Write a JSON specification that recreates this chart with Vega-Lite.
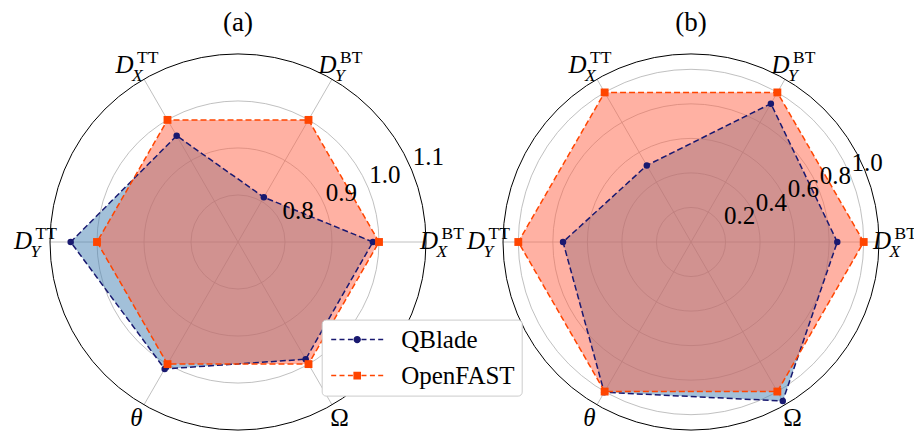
{
  "$schema": "https://vega.github.io/schema/vega-lite/v6.json",
  "autosize": {"type": "pad"},
  "padding": {"left": 14, "top": 8, "right": 0, "bottom": 0},
  "background": "white",
  "spacing": 13,
  "bounds": "flush",
  "resolve": {"scale": {"size": "independent"}},
  "config": {
    "view": {"stroke": null},
    "font": "Liberation Serif",
    "title": {"font": "Liberation Serif", "fontSize": 27, "fontWeight": "normal", "color": "black", "anchor": "middle", "frame": "group", "offset": 12}
  },
  "datasets": {
    "labels": [
      {"k": 0, "base": "D", "sub": "X", "sup": "BT"},
      {"k": 1, "base": "D", "sub": "Y", "sup": "BT"},
      {"k": 2, "base": "D", "sub": "X", "sup": "TT"},
      {"k": 3, "base": "D", "sub": "Y", "sup": "TT"},
      {"k": 4, "base": "θ", "sub": "", "sup": ""},
      {"k": 5, "base": "Ω", "sub": "", "sup": ""}
    ],
    "radA": [
      {"series": "QBlade", "k": 0, "axis": "DX_BT", "value": 0.987},
      {"series": "QBlade", "k": 1, "axis": "DY_BT", "value": 0.81},
      {"series": "QBlade", "k": 2, "axis": "DX_TT", "value": 0.961},
      {"series": "QBlade", "k": 3, "axis": "DY_TT", "value": 1.056},
      {"series": "QBlade", "k": 4, "axis": "theta", "value": 1.012},
      {"series": "QBlade", "k": 5, "axis": "Omega", "value": 0.988},
      {"series": "OpenFAST", "k": 0, "axis": "DX_BT", "value": 1.0},
      {"series": "OpenFAST", "k": 1, "axis": "DY_BT", "value": 1.0},
      {"series": "OpenFAST", "k": 2, "axis": "DX_TT", "value": 1.0},
      {"series": "OpenFAST", "k": 3, "axis": "DY_TT", "value": 1.0},
      {"series": "OpenFAST", "k": 4, "axis": "theta", "value": 1.0},
      {"series": "OpenFAST", "k": 5, "axis": "Omega", "value": 1.0}
    ],
    "radB": [
      {"series": "QBlade", "k": 0, "axis": "DX_BT", "value": 0.847},
      {"series": "QBlade", "k": 1, "axis": "DY_BT", "value": 0.925},
      {"series": "QBlade", "k": 2, "axis": "DX_TT", "value": 0.512},
      {"series": "QBlade", "k": 3, "axis": "DY_TT", "value": 0.741},
      {"series": "QBlade", "k": 4, "axis": "theta", "value": 1.005},
      {"series": "QBlade", "k": 5, "axis": "Omega", "value": 1.063},
      {"series": "OpenFAST", "k": 0, "axis": "DX_BT", "value": 1.0},
      {"series": "OpenFAST", "k": 1, "axis": "DY_BT", "value": 1.0},
      {"series": "OpenFAST", "k": 2, "axis": "DX_TT", "value": 1.0},
      {"series": "OpenFAST", "k": 3, "axis": "DY_TT", "value": 1.0},
      {"series": "OpenFAST", "k": 4, "axis": "theta", "value": 1.0},
      {"series": "OpenFAST", "k": 5, "axis": "Omega", "value": 1.0}
    ],
    "ticksA": [{"r": 0.8, "ring": "grid"}, {"r": 0.9, "ring": "grid"}, {"r": 1.0, "ring": "grid"}, {"r": 1.1, "ring": "outer"}],
    "ticksB": [{"r": 0.2, "ring": "grid"}, {"r": 0.4, "ring": "grid"}, {"r": 0.6, "ring": "grid"}, {"r": 0.8, "ring": "grid"}, {"r": 1.0, "ring": "grid"}, {"r": 1.0886, "ring": "outer"}]
  },
  "hconcat": [
    {
      "width": 440,
      "height": 380,
      "title": {"text": "(a)"},
      "layer": [
        {
          "data": {"name": "ticksA"},
          "transform": [{"filter": "datum.ring == 'grid'"}, {"calculate": "datum.r-0.7", "as": "rr"}, {"calculate": "0", "as": "c"}],
          "mark": {"type": "point", "shape": "circle", "filled": false, "color": "#b0b0b0", "strokeWidth": 0.8, "opacity": 1},
          "encoding": {
            "x": {"field": "c", "type": "quantitative", "scale": {"domain": [-0.468085, 0.468085], "nice": false, "zero": false}, "axis": null},
            "y": {"field": "c", "type": "quantitative", "scale": {"domain": [-0.404255, 0.404255], "nice": false, "zero": false}, "axis": null},
            "size": {"field": "rr", "type": "quantitative", "scale": {"type": "pow", "exponent": 2, "domain": [0, 0.4], "range": [0, 141376], "zero": true}, "legend": null}
          }
        },
        {
          "data": {"name": "labels"},
          "transform": [
            {"calculate": "0", "as": "cx"},
            {"calculate": "0.4*cos(datum.k*PI/3)", "as": "sx"},
            {"calculate": "0.4*sin(datum.k*PI/3)", "as": "sy"}
          ],
          "mark": {"type": "rule", "color": "#b0b0b0", "strokeWidth": 0.8},
          "encoding": {"x": {"field": "cx", "type": "quantitative"}, "y": {"field": "cx", "type": "quantitative"}, "x2": {"field": "sx"}, "y2": {"field": "sy"}}
        },
        {
          "data": {"name": "radA"},
          "transform": [
            {"filter": "datum.series == 'QBlade'"},
            {"calculate": "(datum.value-0.7)*cos(datum.k*PI/3)", "as": "px"},
            {"calculate": "(datum.value-0.7)*sin(datum.k*PI/3)", "as": "py"}
          ],
          "mark": {"type": "line", "interpolate": "linear-closed", "fill": "#4682b4", "fillOpacity": 0.5, "strokeWidth": 0},
          "encoding": {"x": {"field": "px", "type": "quantitative"}, "y": {"field": "py", "type": "quantitative"}, "order": {"field": "k", "type": "quantitative"}}
        },
        {
          "data": {"name": "radA"},
          "transform": [
            {"filter": "datum.series == 'OpenFAST'"},
            {"calculate": "(datum.value-0.7)*cos(datum.k*PI/3)", "as": "px"},
            {"calculate": "(datum.value-0.7)*sin(datum.k*PI/3)", "as": "py"}
          ],
          "mark": {"type": "line", "interpolate": "linear-closed", "fill": "#ff6347", "fillOpacity": 0.5, "strokeWidth": 0},
          "encoding": {"x": {"field": "px", "type": "quantitative"}, "y": {"field": "py", "type": "quantitative"}, "order": {"field": "k", "type": "quantitative"}}
        },
        {
          "data": {"name": "radA"},
          "transform": [
            {"filter": "datum.series == 'QBlade'"},
            {"calculate": "(datum.value-0.7)*cos(datum.k*PI/3)", "as": "px"},
            {"calculate": "(datum.value-0.7)*sin(datum.k*PI/3)", "as": "py"}
          ],
          "mark": {"type": "line", "interpolate": "linear-closed", "color": "#191970", "strokeWidth": 1.5, "strokeDash": [6, 3]},
          "encoding": {"x": {"field": "px", "type": "quantitative"}, "y": {"field": "py", "type": "quantitative"}, "order": {"field": "k", "type": "quantitative"}}
        },
        {
          "data": {"name": "radA"},
          "transform": [
            {"filter": "datum.series == 'OpenFAST'"},
            {"calculate": "(datum.value-0.7)*cos(datum.k*PI/3)", "as": "px"},
            {"calculate": "(datum.value-0.7)*sin(datum.k*PI/3)", "as": "py"}
          ],
          "mark": {"type": "line", "interpolate": "linear-closed", "color": "#ff4500", "strokeWidth": 1.5, "strokeDash": [6, 3]},
          "encoding": {"x": {"field": "px", "type": "quantitative"}, "y": {"field": "py", "type": "quantitative"}, "order": {"field": "k", "type": "quantitative"}}
        },
        {
          "data": {"name": "radA"},
          "transform": [
            {"filter": "datum.series == 'QBlade'"},
            {"calculate": "(datum.value-0.7)*cos(datum.k*PI/3)", "as": "px"},
            {"calculate": "(datum.value-0.7)*sin(datum.k*PI/3)", "as": "py"}
          ],
          "mark": {"type": "point", "shape": "circle", "filled": true, "color": "#191970", "opacity": 1, "size": 42},
          "encoding": {"x": {"field": "px", "type": "quantitative"}, "y": {"field": "py", "type": "quantitative"}}
        },
        {
          "data": {"name": "radA"},
          "transform": [
            {"filter": "datum.series == 'OpenFAST'"},
            {"calculate": "(datum.value-0.7)*cos(datum.k*PI/3)", "as": "px"},
            {"calculate": "(datum.value-0.7)*sin(datum.k*PI/3)", "as": "py"}
          ],
          "mark": {"type": "point", "shape": "square", "filled": true, "color": "#ff4500", "opacity": 1, "size": 62},
          "encoding": {"x": {"field": "px", "type": "quantitative"}, "y": {"field": "py", "type": "quantitative"}}
        },
        {
          "data": {"name": "ticksA"},
          "transform": [{"filter": "datum.ring == 'outer'"}, {"calculate": "datum.r-0.7", "as": "rr"}, {"calculate": "0", "as": "c"}],
          "mark": {"type": "point", "shape": "circle", "filled": false, "color": "black", "strokeWidth": 1, "opacity": 1},
          "encoding": {
            "x": {"field": "c", "type": "quantitative"},
            "y": {"field": "c", "type": "quantitative"},
            "size": {"field": "rr", "type": "quantitative", "legend": null}
          }
        },
        {
          "data": {"name": "ticksA"},
          "transform": [
            {"calculate": "(datum.r-0.7)*cos(PI/8)", "as": "tx"},
            {"calculate": "(datum.r-0.7)*sin(PI/8)", "as": "ty"}
          ],
          "mark": {"type": "text", "align": "left", "baseline": "alphabetic", "dx": 1, "dy": -5, "fontSize": 25, "font": "Liberation Serif", "color": "black"},
          "encoding": {"x": {"field": "tx", "type": "quantitative"}, "y": {"field": "ty", "type": "quantitative"}, "text": {"field": "r", "type": "quantitative", "format": ".1f"}}
        },
        {
          "data": {"name": "labels"},
          "transform": [
            {"filter": "datum.base == 'D'"},
            {"calculate": "0.43191*cos(datum.k*PI/3)", "as": "lx"},
            {"calculate": "0.43191*sin(datum.k*PI/3)", "as": "ly"}
          ],
          "mark": {"type": "text", "align": "left", "baseline": "alphabetic", "dx": -21, "dy": 6.5, "fontSize": 25, "fontStyle": "italic", "font": "Liberation Serif", "color": "black"},
          "encoding": {"x": {"field": "lx", "type": "quantitative"}, "y": {"field": "ly", "type": "quantitative"}, "text": {"field": "base"}}
        },
        {
          "data": {"name": "labels"},
          "transform": [
            {"filter": "datum.base == 'D'"},
            {"calculate": "0.43191*cos(datum.k*PI/3)", "as": "lx"},
            {"calculate": "0.43191*sin(datum.k*PI/3)", "as": "ly"}
          ],
          "mark": {"type": "text", "align": "left", "baseline": "alphabetic", "dx": -4.5, "dy": 15, "fontSize": 17.5, "fontStyle": "italic", "font": "Liberation Serif", "color": "black"},
          "encoding": {"x": {"field": "lx", "type": "quantitative"}, "y": {"field": "ly", "type": "quantitative"}, "text": {"field": "sub"}}
        },
        {
          "data": {"name": "labels"},
          "transform": [
            {"filter": "datum.base == 'D'"},
            {"calculate": "0.43191*cos(datum.k*PI/3)", "as": "lx"},
            {"calculate": "0.43191*sin(datum.k*PI/3)", "as": "ly"}
          ],
          "mark": {"type": "text", "align": "left", "baseline": "alphabetic", "dx": 0.5, "dy": -3.5, "fontSize": 17.5, "font": "Liberation Serif", "color": "black"},
          "encoding": {"x": {"field": "lx", "type": "quantitative"}, "y": {"field": "ly", "type": "quantitative"}, "text": {"field": "sup"}}
        },
        {
          "data": {"name": "labels"},
          "transform": [
            {"filter": "datum.base == 'θ'"},
            {"calculate": "0.43191*cos(datum.k*PI/3)", "as": "lx"},
            {"calculate": "0.43191*sin(datum.k*PI/3)", "as": "ly"}
          ],
          "mark": {"type": "text", "align": "center", "baseline": "middle", "fontSize": 25, "fontStyle": "italic", "font": "Liberation Serif", "color": "black"},
          "encoding": {"x": {"field": "lx", "type": "quantitative"}, "y": {"field": "ly", "type": "quantitative"}, "text": {"field": "base"}}
        },
        {
          "data": {"name": "labels"},
          "transform": [
            {"filter": "datum.base == 'Ω'"},
            {"calculate": "0.43191*cos(datum.k*PI/3)", "as": "lx"},
            {"calculate": "0.43191*sin(datum.k*PI/3)", "as": "ly"}
          ],
          "mark": {"type": "text", "align": "center", "baseline": "middle", "fontSize": 25, "font": "Liberation Serif", "color": "black"},
          "encoding": {"x": {"field": "lx", "type": "quantitative"}, "y": {"field": "ly", "type": "quantitative"}, "text": {"field": "base"}}
        },
        {
          "data": {"name": "radA"},
          "transform": [{"filter": "datum.k < 0"}],
          "mark": {"type": "point", "filled": true, "opacity": 1},
          "encoding": {
            "color": {"field": "series", "type": "nominal", "scale": {"domain": ["QBlade", "OpenFAST"], "range": ["#191970", "#ff4500"]},
              "legend": {"title": null, "orient": "none", "legendX": 303.7, "legendY": 267.6, "symbolSize": 676, "symbolStrokeWidth": 0, "symbolOffset": 15.5, "labelOffset": 31, "labelFont": "Liberation Serif", "labelFontSize": 25, "labelColor": "black", "padding": 7, "rowPadding": 10, "fillColor": "white", "strokeColor": "#cccccc", "cornerRadius": 4}},
            "shape": {"field": "series", "type": "nominal", "scale": {"domain": ["QBlade", "OpenFAST"], "range": [
              "M-2,-0.058H-1.615V0.058H-2ZM-1.362,-0.058H-0.977V0.058H-1.362ZM-0.715,-0.058H-0.331V0.058H-0.715ZM0.331,-0.058H0.715V0.058H0.331ZM0.977,-0.058H1.362V0.058H0.977ZM1.615,-0.058H2V0.058H1.615ZM-0.285,0A0.285,0.285,0,1,0,0.285,0A0.285,0.285,0,1,0,-0.285,0Z",
              "M-2,-0.058H-1.615V0.058H-2ZM-1.362,-0.058H-0.977V0.058H-1.362ZM-0.715,-0.058H-0.331V0.058H-0.715ZM0.331,-0.058H0.715V0.058H0.331ZM0.977,-0.058H1.362V0.058H0.977ZM1.615,-0.058H2V0.058H1.615ZM-0.292,-0.292H0.292V0.292H-0.292Z"
            ]}}
          }
        }
      ]
    },
    {
      "width": 440,
      "height": 380,
      "title": {"text": "(b)"},
      "layer": [
        {
          "data": {"name": "ticksB"},
          "transform": [{"filter": "datum.ring == 'grid'"}, {"calculate": "0", "as": "c"}],
          "mark": {"type": "point", "shape": "circle", "filled": false, "color": "#b0b0b0", "strokeWidth": 0.8, "opacity": 1},
          "encoding": {
            "x": {"field": "c", "type": "quantitative", "scale": {"domain": [-1.27388, 1.27388], "nice": false, "zero": false}, "axis": null},
            "y": {"field": "c", "type": "quantitative", "scale": {"domain": [-1.10017, 1.10017], "nice": false, "zero": false}, "axis": null},
            "size": {"field": "r", "type": "quantitative", "scale": {"type": "pow", "exponent": 2, "domain": [0, 1.0886], "range": [0, 141376], "zero": true}, "legend": null}
          }
        },
        {
          "data": {"name": "labels"},
          "transform": [
            {"calculate": "0", "as": "cx"},
            {"calculate": "1.0886*cos(datum.k*PI/3)", "as": "sx"},
            {"calculate": "1.0886*sin(datum.k*PI/3)", "as": "sy"}
          ],
          "mark": {"type": "rule", "color": "#b0b0b0", "strokeWidth": 0.8},
          "encoding": {"x": {"field": "cx", "type": "quantitative"}, "y": {"field": "cx", "type": "quantitative"}, "x2": {"field": "sx"}, "y2": {"field": "sy"}}
        },
        {
          "data": {"name": "radB"},
          "transform": [
            {"filter": "datum.series == 'QBlade'"},
            {"calculate": "datum.value*cos(datum.k*PI/3)", "as": "px"},
            {"calculate": "datum.value*sin(datum.k*PI/3)", "as": "py"}
          ],
          "mark": {"type": "line", "interpolate": "linear-closed", "fill": "#4682b4", "fillOpacity": 0.5, "strokeWidth": 0},
          "encoding": {"x": {"field": "px", "type": "quantitative"}, "y": {"field": "py", "type": "quantitative"}, "order": {"field": "k", "type": "quantitative"}}
        },
        {
          "data": {"name": "radB"},
          "transform": [
            {"filter": "datum.series == 'OpenFAST'"},
            {"calculate": "datum.value*cos(datum.k*PI/3)", "as": "px"},
            {"calculate": "datum.value*sin(datum.k*PI/3)", "as": "py"}
          ],
          "mark": {"type": "line", "interpolate": "linear-closed", "fill": "#ff6347", "fillOpacity": 0.5, "strokeWidth": 0},
          "encoding": {"x": {"field": "px", "type": "quantitative"}, "y": {"field": "py", "type": "quantitative"}, "order": {"field": "k", "type": "quantitative"}}
        },
        {
          "data": {"name": "radB"},
          "transform": [
            {"filter": "datum.series == 'QBlade'"},
            {"calculate": "datum.value*cos(datum.k*PI/3)", "as": "px"},
            {"calculate": "datum.value*sin(datum.k*PI/3)", "as": "py"}
          ],
          "mark": {"type": "line", "interpolate": "linear-closed", "color": "#191970", "strokeWidth": 1.5, "strokeDash": [6, 3]},
          "encoding": {"x": {"field": "px", "type": "quantitative"}, "y": {"field": "py", "type": "quantitative"}, "order": {"field": "k", "type": "quantitative"}}
        },
        {
          "data": {"name": "radB"},
          "transform": [
            {"filter": "datum.series == 'OpenFAST'"},
            {"calculate": "datum.value*cos(datum.k*PI/3)", "as": "px"},
            {"calculate": "datum.value*sin(datum.k*PI/3)", "as": "py"}
          ],
          "mark": {"type": "line", "interpolate": "linear-closed", "color": "#ff4500", "strokeWidth": 1.5, "strokeDash": [6, 3]},
          "encoding": {"x": {"field": "px", "type": "quantitative"}, "y": {"field": "py", "type": "quantitative"}, "order": {"field": "k", "type": "quantitative"}}
        },
        {
          "data": {"name": "radB"},
          "transform": [
            {"filter": "datum.series == 'QBlade'"},
            {"calculate": "datum.value*cos(datum.k*PI/3)", "as": "px"},
            {"calculate": "datum.value*sin(datum.k*PI/3)", "as": "py"}
          ],
          "mark": {"type": "point", "shape": "circle", "filled": true, "color": "#191970", "opacity": 1, "size": 42},
          "encoding": {"x": {"field": "px", "type": "quantitative"}, "y": {"field": "py", "type": "quantitative"}}
        },
        {
          "data": {"name": "radB"},
          "transform": [
            {"filter": "datum.series == 'OpenFAST'"},
            {"calculate": "datum.value*cos(datum.k*PI/3)", "as": "px"},
            {"calculate": "datum.value*sin(datum.k*PI/3)", "as": "py"}
          ],
          "mark": {"type": "point", "shape": "square", "filled": true, "color": "#ff4500", "opacity": 1, "size": 62},
          "encoding": {"x": {"field": "px", "type": "quantitative"}, "y": {"field": "py", "type": "quantitative"}}
        },
        {
          "data": {"name": "ticksB"},
          "transform": [{"filter": "datum.ring == 'outer'"}, {"calculate": "0", "as": "c"}],
          "mark": {"type": "point", "shape": "circle", "filled": false, "color": "black", "strokeWidth": 1, "opacity": 1},
          "encoding": {
            "x": {"field": "c", "type": "quantitative"},
            "y": {"field": "c", "type": "quantitative"},
            "size": {"field": "r", "type": "quantitative", "legend": null}
          }
        },
        {
          "data": {"name": "ticksB"},
          "transform": [
            {"filter": "datum.ring == 'grid'"},
            {"calculate": "datum.r*cos(PI/8)", "as": "tx"},
            {"calculate": "datum.r*sin(PI/8)", "as": "ty"}
          ],
          "mark": {"type": "text", "align": "left", "baseline": "alphabetic", "dx": 1, "dy": -5, "fontSize": 25, "font": "Liberation Serif", "color": "black"},
          "encoding": {"x": {"field": "tx", "type": "quantitative"}, "y": {"field": "ty", "type": "quantitative"}, "text": {"field": "r", "type": "quantitative", "format": ".1f"}}
        },
        {
          "data": {"name": "labels"},
          "transform": [
            {"filter": "datum.base == 'D'"},
            {"calculate": "1.17545*cos(datum.k*PI/3)", "as": "lx"},
            {"calculate": "1.17545*sin(datum.k*PI/3)", "as": "ly"}
          ],
          "mark": {"type": "text", "align": "left", "baseline": "alphabetic", "dx": -21, "dy": 6.5, "fontSize": 25, "fontStyle": "italic", "font": "Liberation Serif", "color": "black"},
          "encoding": {"x": {"field": "lx", "type": "quantitative"}, "y": {"field": "ly", "type": "quantitative"}, "text": {"field": "base"}}
        },
        {
          "data": {"name": "labels"},
          "transform": [
            {"filter": "datum.base == 'D'"},
            {"calculate": "1.17545*cos(datum.k*PI/3)", "as": "lx"},
            {"calculate": "1.17545*sin(datum.k*PI/3)", "as": "ly"}
          ],
          "mark": {"type": "text", "align": "left", "baseline": "alphabetic", "dx": -4.5, "dy": 15, "fontSize": 17.5, "fontStyle": "italic", "font": "Liberation Serif", "color": "black"},
          "encoding": {"x": {"field": "lx", "type": "quantitative"}, "y": {"field": "ly", "type": "quantitative"}, "text": {"field": "sub"}}
        },
        {
          "data": {"name": "labels"},
          "transform": [
            {"filter": "datum.base == 'D'"},
            {"calculate": "1.17545*cos(datum.k*PI/3)", "as": "lx"},
            {"calculate": "1.17545*sin(datum.k*PI/3)", "as": "ly"}
          ],
          "mark": {"type": "text", "align": "left", "baseline": "alphabetic", "dx": 0.5, "dy": -3.5, "fontSize": 17.5, "font": "Liberation Serif", "color": "black"},
          "encoding": {"x": {"field": "lx", "type": "quantitative"}, "y": {"field": "ly", "type": "quantitative"}, "text": {"field": "sup"}}
        },
        {
          "data": {"name": "labels"},
          "transform": [
            {"filter": "datum.base == 'θ'"},
            {"calculate": "1.17545*cos(datum.k*PI/3)", "as": "lx"},
            {"calculate": "1.17545*sin(datum.k*PI/3)", "as": "ly"}
          ],
          "mark": {"type": "text", "align": "center", "baseline": "middle", "fontSize": 25, "fontStyle": "italic", "font": "Liberation Serif", "color": "black"},
          "encoding": {"x": {"field": "lx", "type": "quantitative"}, "y": {"field": "ly", "type": "quantitative"}, "text": {"field": "base"}}
        },
        {
          "data": {"name": "labels"},
          "transform": [
            {"filter": "datum.base == 'Ω'"},
            {"calculate": "1.17545*cos(datum.k*PI/3)", "as": "lx"},
            {"calculate": "1.17545*sin(datum.k*PI/3)", "as": "ly"}
          ],
          "mark": {"type": "text", "align": "center", "baseline": "middle", "fontSize": 25, "font": "Liberation Serif", "color": "black"},
          "encoding": {"x": {"field": "lx", "type": "quantitative"}, "y": {"field": "ly", "type": "quantitative"}, "text": {"field": "base"}}
        }
      ]
    }
  ]
}
